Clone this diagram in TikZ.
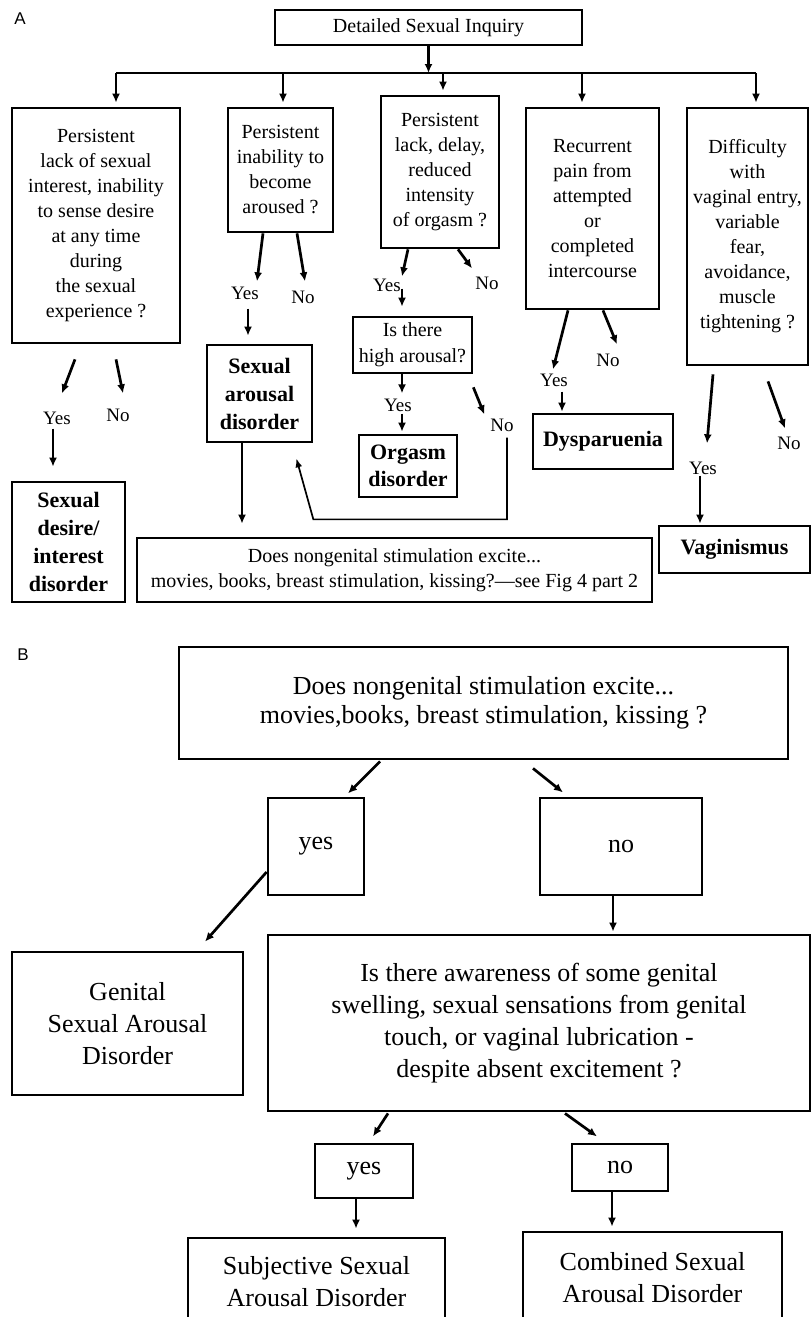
\documentclass[tikz,border=0pt]{standalone}
\usepackage{fontspec}
\setmainfont{Liberation Serif}
\newfontfamily\panelfont{Liberation Sans}
\usepackage{tikz}
\usetikzlibrary{calc,arrows.meta}
\tikzset{
question/.style={rectangle, draw, line width=2.7pt, align=center, inner sep=0pt, font=\fontsize{20}{25}\selectfont},
diagnosis/.style={rectangle, draw, line width=2.7pt, align=center, inner sep=0pt, font=\fontsize{22}{28}\selectfont\bfseries},
big_box/.style={rectangle, draw, line width=2.8pt, align=center, inner sep=0pt, font=\fontsize{26}{32}\selectfont},
answer/.style={inner sep=1pt, font=\fontsize{19}{22}\selectfont},
panel_label/.style={inner sep=0pt, font=\panelfont\fontsize{17}{20}\selectfont},
flow/.style={-{Latex[length=9pt,width=8pt]}, line width=2.7pt},
back_flow/.style={-{Latex[length=9pt,width=7pt]}, line width=1.7pt}
}

\begin{document}
\begin{tikzpicture}[x=1pt,y=-1pt]
    \useasboundingbox (0,0) rectangle (811,1317);
    \clip (0,0) rectangle (811,1317);

    \node[panel_label] (label_a) at (20,19) {A};
    \node[question, minimum width=307pt, minimum height=35pt] (inquiry) at (428.5,27.5) {Detailed Sexual Inquiry};
    \node[question, minimum width=168pt, minimum height=235pt] (q_desire) at (96,225.5) {Persistent\\lack of sexual\\interest, inability\\to sense desire\\at any time\\during\\the sexual\\experience ?};
    \node[question, minimum width=105pt, minimum height=124pt] (q_arousal) at (280.5,170) {Persistent\\inability to\\become\\aroused ?};
    \node[question, minimum width=118pt, minimum height=152pt] (q_orgasm) at (440,172) {Persistent\\lack, delay,\\reduced\\intensity\\of orgasm ?};
    \node[question, minimum width=133pt, minimum height=201pt] (q_pain) at (592.5,208.5) {Recurrent\\pain from\\attempted\\or\\completed\\intercourse};
    \node[question, minimum width=121pt, minimum height=257pt] (q_vaginal) at (747.5,236.5) {Difficulty\\with\\vaginal entry,\\variable\\fear,\\avoidance,\\muscle\\tightening ?};
    \node[question, minimum width=119pt, minimum height=56pt, font=\fontsize{20}{26}\selectfont] (q_high) at (412.5,345) {Is there\\high arousal?};
    \node[question, minimum width=515pt, minimum height=64pt] (q_nongenital) at (394.5,570) {Does nongenital stimulation excite...\\movies, books, breast stimulation, kissing?—see Fig 4 part 2};

    \node[diagnosis, minimum width=113pt, minimum height=120pt] (d_desire) at (68.5,542) {Sexual\\desire/\\interest\\disorder};
    \node[diagnosis, minimum width=105pt, minimum height=97pt] (d_arousal) at (259.5,393.5) {Sexual\\arousal\\disorder};
    \node[diagnosis, minimum width=98pt, minimum height=62pt, font=\fontsize{22}{27}\selectfont\bfseries] (d_orgasm) at (408,466) {Orgasm\\disorder};
    \node[diagnosis, minimum width=140pt, minimum height=55pt] (d_pain) at (603,441.5) {Dysparuenia};
    \node[diagnosis, minimum width=151pt, minimum height=47pt] (d_vaginal) at (734.5,549.5) {Vaginismus};

    \node[answer] (yes_1) at (57,418) {Yes};
    \node[answer] (no_1) at (118,415) {No};
    \node[answer] (yes_2) at (245,293) {Yes};
    \node[answer] (no_2) at (303,297) {No};
    \node[answer] (yes_3) at (387,285) {Yes};
    \node[answer] (no_3) at (487,283) {No};
    \node[answer] (yes_4) at (398,405) {Yes};
    \node[answer] (no_4) at (502,425) {No};
    \node[answer] (yes_5) at (554,380) {Yes};
    \node[answer] (no_5) at (608,360) {No};
    \node[answer] (yes_6) at (703,468) {Yes};
    \node[answer] (no_6) at (789,443) {No};

    \coordinate (split) at (428.5,73);
    \coordinate (drop_1) at (116,73);
    \coordinate (drop_2) at (283,73);
    \coordinate (drop_3) at (443,73);
    \coordinate (drop_4) at (582,73);
    \coordinate (drop_5) at (756,73);
    \draw[flow] (inquiry.south) -- (split);
    \draw[line width=2.7pt] (drop_1) -- (drop_5);
    \draw[flow, shorten >=4pt] (drop_1) -- (drop_1 |- q_desire.north);
    \draw[flow, shorten >=4pt] (drop_2) -- (drop_2 |- q_arousal.north);
    \draw[flow, shorten >=4pt] (drop_3) -- (drop_3 |- q_orgasm.north);
    \draw[flow, shorten >=4pt] (drop_4) -- (drop_4 |- q_pain.north);
    \draw[flow, shorten >=4pt] (drop_5) -- (drop_5 |- q_vaginal.north);

    \draw[flow] ($(q_desire.south)+(-21,15)$) -- ($(q_desire.south)+(-34,49)$);
    \draw[flow] ($(q_desire.south)+(20,15)$) -- ($(q_desire.south)+(27,49)$);
    \draw[flow] ($(yes_1.south)+(-4,3)$) -- ($(d_desire.north)+(-15.5,-14)$);

    \draw[flow] ($(q_arousal.south)+(-17.5,0)$) -- ($(q_arousal.south)+(-23.5,48)$);
    \draw[flow] ($(q_arousal.south)+(16.5,0)$) -- ($(q_arousal.south)+(24.5,48)$);
    \draw[flow] ($(d_arousal.north)+(-11.5,-35)$) -- ($(d_arousal.north)+(-11.5,-8)$);

    \draw[flow] ($(q_orgasm.south)+(-32,0)$) -- ($(q_orgasm.south)+(-38,27)$);
    \draw[flow] ($(q_orgasm.south)+(18,0)$) -- ($(q_orgasm.south)+(32,19)$);
    \draw[flow] ($(q_high.north)+(-10.5,-27)$) -- ($(q_high.north)+(-10.5,-9)$);
    \draw[flow] ($(q_high.south)+(-10.5,0)$) -- ($(q_high.south)+(-10.5,19)$);
    \draw[flow] ($(d_orgasm.north)+(-6,-20)$) -- ($(d_orgasm.north)+(-6,-2)$);
    \draw[flow] ($(q_high.south east)+(0,13)$) -- ($(q_high.south east)+(11,40)$);
    \draw[back_flow] ($(no_4.south)+(5,5)$) |- ($(d_arousal.south east)+(0,76)$) -- ($(d_arousal.south east)+(-17,15)$);
    \draw[flow] ($(d_arousal.south)+(-17.5,0)$) -- ($(q_nongenital.north)+(-152.5,-13)$);

    \draw[flow] ($(q_pain.south)+(-24.5,0)$) -- ($(q_pain.south)+(-39.5,59)$);
    \draw[flow] ($(q_pain.south)+(10.5,0)$) -- ($(q_pain.south)+(24.5,34)$);
    \draw[flow] ($(d_pain.north)+(-41,-21)$) -- ($(d_pain.north)+(-41,-1)$);

    \draw[flow] ($(q_vaginal.south)+(-34.5,8)$) -- ($(q_vaginal.south)+(-40.5,77)$);
    \draw[flow] ($(q_vaginal.south)+(20.5,15)$) -- ($(q_vaginal.south)+(37.5,62)$);
    \draw[flow] ($(d_vaginal.north)+(-34.5,-49)$) -- ($(d_vaginal.north)+(-34.5,-1)$);

    \node[panel_label] (label_b) at (23,655) {B};
    \node[big_box, minimum width=609pt, minimum height=112pt, font=\fontsize{26}{29}\selectfont] (q_excite) at (483.5,703) {Does nongenital stimulation excite...\\movies,books, breast stimulation, kissing ?};
    \node[big_box, minimum width=96pt, minimum height=97pt] (ans_yes) at (316,846.5) {yes};
    \node[big_box, minimum width=162pt, minimum height=97pt] (ans_no) at (621,846.5) {no};
    \node[big_box, minimum width=231pt, minimum height=143pt] (d_genital) at (127.5,1023.5) {Genital\\Sexual Arousal\\Disorder};
    \node[big_box, minimum width=542pt, minimum height=176pt] (q_awareness) at (539,1023) {Is there awareness of some genital\\swelling, sexual sensations from genital\\touch, or vaginal lubrication -\\despite absent excitement ?};
    \node[big_box, minimum width=98pt, minimum height=54pt] (ans_yes_2) at (364,1171) {yes};
    \node[big_box, minimum width=96pt, minimum height=47pt] (ans_no_2) at (620,1167.5) {no};
    \node[big_box, minimum width=257pt, minimum height=87pt] (d_subjective) at (316.5,1281.5) {Subjective Sexual\\Arousal Disorder};
    \node[big_box, minimum width=259pt, minimum height=92pt] (d_combined) at (652.5,1278) {Combined Sexual\\Arousal Disorder};

    \draw[flow] ($(q_excite.south)+(-103.5,1)$) -- ($(q_excite.south)+(-135.5,33)$);
    \draw[flow] ($(q_excite.south)+(49.5,8)$) -- ($(q_excite.south)+(79.5,32)$);
    \draw[flow] ($(ans_yes.west)+(0,25.5)$) -- ($(d_genital.north)+(77.5,-9)$);
    \draw[flow] ($(ans_no.south)+(-8,0)$) -- ($(q_awareness.north)+(74,-2)$);
    \draw[flow] ($(q_awareness.south)+(-151,1)$) -- ($(q_awareness.south)+(-166,24)$);
    \draw[flow] ($(q_awareness.south)+(26,1)$) -- ($(q_awareness.south)+(58,24)$);
    \draw[flow] ($(ans_yes_2.south)+(-8,0)$) -- ($(d_subjective.north)+(39.5,-8)$);
    \draw[flow] ($(ans_no_2.south)+(-8,0)$) -- ($(d_combined.north)+(-40.5,-4)$);
\end{tikzpicture}
\end{document}
